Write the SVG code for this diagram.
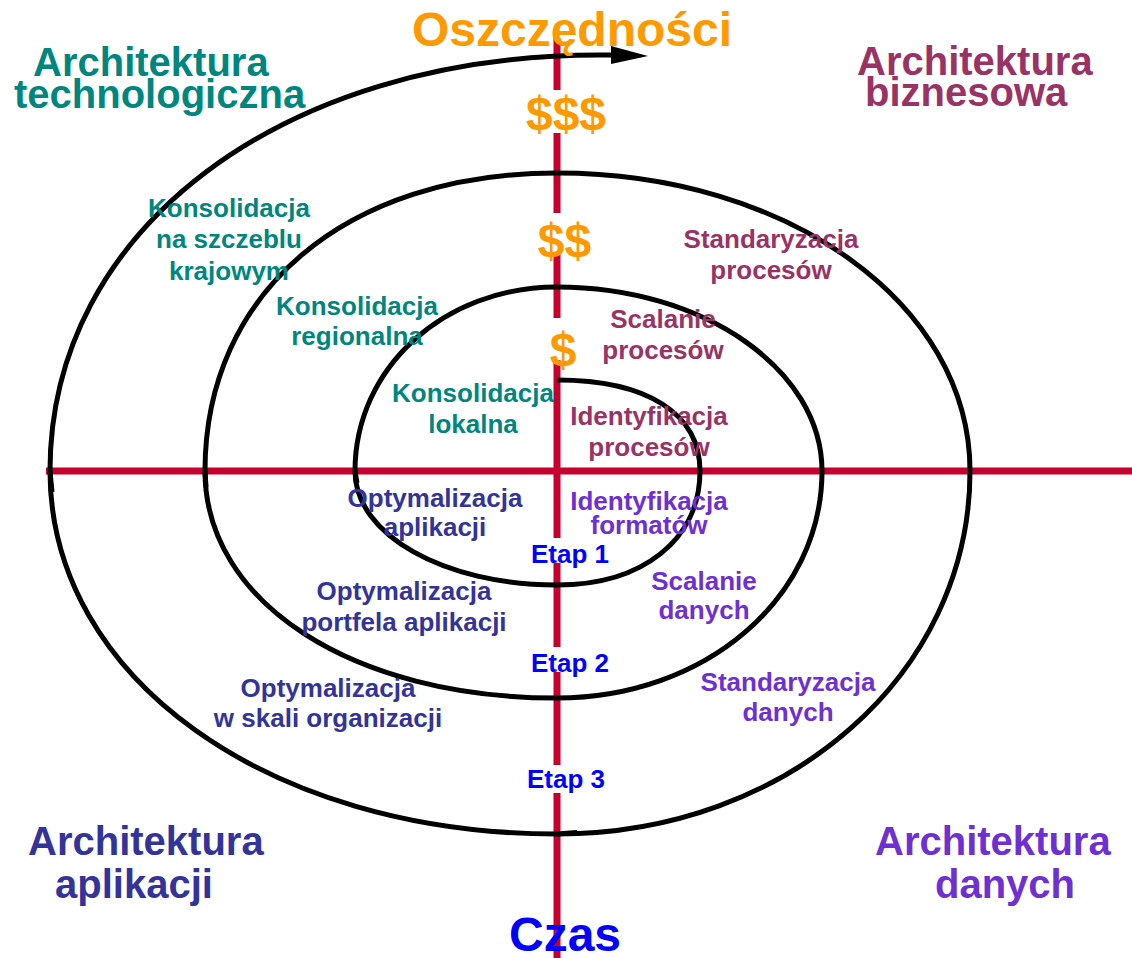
<svg xmlns="http://www.w3.org/2000/svg" width="1132" height="958" viewBox="0 0 1132 958">
  <style>
    text { font-family: "Liberation Sans", Arial, sans-serif; font-weight: bold; }
    .big { font-size: 40px; }
    .sm { font-size: 26px; text-anchor: middle; }
    .title { font-size: 48px; text-anchor: middle; }
    .teal { fill: #00867E; }
    .maroon { fill: #993366; }
    .navy { fill: #333399; }
    .purple { fill: #6E2FD3; }
    .blue { fill: #0000FF; }
    .orange { fill: #FF9900; }
    .axis { stroke: #C5002E; stroke-width: 7; fill: none; }
    .spiral { stroke: #000; stroke-width: 5; fill: none; stroke-linecap: butt; stroke-linejoin: round; }
  </style>

  <g id="connectors">
    <!-- time axis (horizontal) -->
    <line class="axis" x1="46" y1="471" x2="1132" y2="471"/>
    <!-- savings / time axis (vertical), broken where the labels sit -->
    <path class="axis" d="M557,38 V90 M557,133 V213 M557,252 V318 M557,360 V538 M557,563 V647 M557,672 V765 M557,793 V958"/>
    <!-- the spiral, quarter by quarter, clockwise from the centre -->
    <path id="spiral" class="spiral" d="M557,380
      C647.1,380 700,413.7 700,471
      C700,539.4 642.8,585 557,585
      C443.9,585 355,534.8 355,471
      C355,368 443.9,287 557,287
      C703.3,287 822,369.4 822,471
      C822,598.1 705.4,698 557,698
      C352.8,698 205,602.7 205,471
      C205,292.2 345.8,173 557,173
      C788.3,173 970,304.1 970,471
      C970,674.3 788.3,834 557,834
      C268,834 50,677.9 50,471
      C50,229.7 281,55 600,55
      L613,55"/>
    <!-- joints where the quarters meet -->
    <path class="spiral" d="M557,834 L577,832.5" stroke-width="8"/>
    <path class="spiral" d="M50,471 L52,492"/>
    <path class="spiral" d="M205,471 L206,487"/>
    <path class="spiral" d="M355,471 L357,483"/>
    <!-- arrowhead at the end of the spiral -->
    <polygon points="611,46 648,56 611,64" fill="#000"/>
  </g>

  <g id="axis-top">
    <text class="title orange" x="572" y="46">Oszczędności</text>
  </g>
  <g id="axis-bottom">
    <text class="title blue" x="565" y="951">Czas</text>
  </g>

  <g id="savings-3">
    <text class="title orange" x="566" y="130">$$$</text>
  </g>
  <g id="savings-2">
    <text class="title orange" x="564.5" y="257">$$</text>
  </g>
  <g id="savings-1">
    <text class="title orange" x="563" y="366">$</text>
  </g>

  <g id="stage-1"><text class="sm blue" x="570" y="563">Etap 1</text></g>
  <g id="stage-2"><text class="sm blue" x="570" y="672">Etap 2</text></g>
  <g id="stage-3"><text class="sm blue" x="566" y="788">Etap 3</text></g>

  <!-- quadrant headings -->
  <g id="arch-tech" class="teal">
    <text class="big" x="33" y="76">Architektura</text>
    <text class="big" x="14" y="108">technologiczna</text>
  </g>
  <g id="arch-business" class="maroon">
    <text class="big" x="857" y="75">Architektura</text>
    <text class="big" x="865" y="106">biznesowa</text>
  </g>
  <g id="arch-apps" class="navy">
    <text class="big" x="28" y="855">Architektura</text>
    <text class="big" x="55" y="898">aplikacji</text>
  </g>
  <g id="arch-data" class="purple">
    <text class="big" x="875" y="855">Architektura</text>
    <text class="big" x="935" y="898">danych</text>
  </g>

  <!-- technology quadrant -->
  <g id="tech-3" class="teal">
    <text class="sm" x="229" y="217">Konsolidacja</text>
    <text class="sm" x="229" y="248">na szczeblu</text>
    <text class="sm" x="229" y="280">krajowym</text>
  </g>
  <g id="tech-2" class="teal">
    <text class="sm" x="357" y="315">Konsolidacja</text>
    <text class="sm" x="357" y="345">regionalna</text>
  </g>
  <g id="tech-1" class="teal">
    <text class="sm" x="473" y="402">Konsolidacja</text>
    <text class="sm" x="473" y="433">lokalna</text>
  </g>

  <!-- business quadrant -->
  <g id="biz-3" class="maroon">
    <text class="sm" x="771" y="248">Standaryzacja</text>
    <text class="sm" x="771" y="279">procesów</text>
  </g>
  <g id="biz-2" class="maroon">
    <text class="sm" x="663" y="328">Scalanie</text>
    <text class="sm" x="663" y="359">procesów</text>
  </g>
  <g id="biz-1" class="maroon">
    <text class="sm" x="649" y="425">Identyfikacja</text>
    <text class="sm" x="649" y="456">procesów</text>
  </g>

  <!-- data quadrant -->
  <g id="data-1" class="purple">
    <text class="sm" x="649" y="510">Identyfikacja</text>
    <text class="sm" x="649" y="534">formatów</text>
  </g>
  <g id="data-2" class="purple">
    <text class="sm" x="704" y="590">Scalanie</text>
    <text class="sm" x="704" y="619">danych</text>
  </g>
  <g id="data-3" class="purple">
    <text class="sm" x="788" y="691">Standaryzacja</text>
    <text class="sm" x="788" y="721">danych</text>
  </g>

  <!-- applications quadrant -->
  <g id="apps-1" class="navy">
    <text class="sm" x="435" y="507">Optymalizacja</text>
    <text class="sm" x="435" y="536">aplikacji</text>
  </g>
  <g id="apps-2" class="navy">
    <text class="sm" x="404" y="600">Optymalizacja</text>
    <text class="sm" x="404" y="631">portfela aplikacji</text>
  </g>
  <g id="apps-3" class="navy">
    <text class="sm" x="328" y="697">Optymalizacja</text>
    <text class="sm" x="328" y="727">w skali organizacji</text>
  </g>
</svg>
